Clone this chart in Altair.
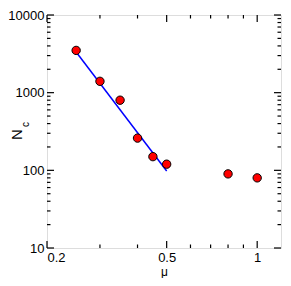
import altair as alt
import pandas as pd

# data
mu = [0.25, 0.30, 0.35, 0.40, 0.45, 0.50, 0.80, 1.00]
nc = [3500, 1400, 800, 260, 150, 120, 90, 80]
fit_mu = [0.25, 0.50]
fit_nc = [3340, 98]
x_major = [0.2, 0.5, 1.0]
x_minor = [0.3, 0.4, 0.6, 0.7, 0.8, 0.9]
y_major = [10, 100, 1000, 10000]
y_minor = [k * d for d in [10, 100, 1000] for k in range(2, 10)]

PAD = {"left": 39, "right": 2, "top": 7, "bottom": 30}
W = 275 - PAD["left"] - PAD["right"]
H = 270 - PAD["top"] - PAD["bottom"]
FONT = "Liberation Sans"
MAJ, MIN = 7, 3.5

xs = alt.Scale(type="log", domain=[0.2, 1.2], nice=False)
ys = alt.Scale(type="log", domain=[10, 10000], nice=False)

xaxis = alt.Axis(title="μ", values=x_major, format="~g", grid=False, domain=False,
                 ticks=False, tickSize=0, labelPadding=3, labelFontSize=13,
                 labelFont=FONT, titleFont=FONT, titleFontSize=12,
                 titleFontWeight="normal", titlePadding=2, labelColor="black",
                 titleColor="black")
yaxis = alt.Axis(title=None, values=y_major, format="d", grid=False, domain=False,
                 ticks=False, tickSize=0, labelPadding=3, labelFontSize=13,
                 labelFont=FONT, labelColor="black")

pts = pd.DataFrame({"mu": mu, "nc": nc})
fit = pd.DataFrame({"mu": fit_mu, "nc": fit_nc})
dxM = pd.DataFrame({"v": x_major})
dxm = pd.DataFrame({"v": x_minor})
dyM = pd.DataFrame({"v": y_major})
dym = pd.DataFrame({"v": y_minor})


def xticks(df, ln):
    b = alt.Chart(df).mark_rule(color="black", strokeWidth=1.2).encode(
        x=alt.X("v:Q", scale=xs, axis=xaxis), y=alt.value(H), y2=alt.value(H - ln))
    t = alt.Chart(df).mark_rule(color="black", strokeWidth=1.2).encode(
        x=alt.X("v:Q", scale=xs, axis=xaxis), y=alt.value(0), y2=alt.value(ln))
    return [b, t]


def yticks(df, ln):
    l = alt.Chart(df).mark_rule(color="black", strokeWidth=1.2).encode(
        y=alt.Y("v:Q", scale=ys, axis=yaxis), x=alt.value(0), x2=alt.value(ln))
    r = alt.Chart(df).mark_rule(color="black", strokeWidth=1.2).encode(
        y=alt.Y("v:Q", scale=ys, axis=yaxis), x=alt.value(W), x2=alt.value(W - ln))
    return [l, r]


line = alt.Chart(fit).mark_line(color="#0000ff", strokeWidth=1.5).encode(
    x=alt.X("mu:Q", scale=xs, axis=xaxis), y=alt.Y("nc:Q", scale=ys, axis=yaxis))

points = alt.Chart(pts).mark_circle(color="#ff0000", stroke="black", strokeWidth=1,
                                    size=70, opacity=1).encode(
    x=alt.X("mu:Q", scale=xs, axis=xaxis), y=alt.Y("nc:Q", scale=ys, axis=yaxis))

ntext = alt.Chart(pd.DataFrame({"t": ["N"]})).mark_text(
    angle=270, fontSize=15, font=FONT, baseline="alphabetic", align="center",
    color="black").encode(text="t:N", x=alt.value(-25), y=alt.value(H / 2 + 3))
ctext = alt.Chart(pd.DataFrame({"t": ["c"]})).mark_text(
    angle=270, fontSize=10, font=FONT, baseline="alphabetic", align="center",
    color="black").encode(text="t:N", x=alt.value(-18), y=alt.value(H / 2 - 7))

layers = (xticks(dxM, MAJ) + xticks(dxm, MIN) + yticks(dyM, MAJ) + yticks(dym, MIN)
          + [line, points, ntext, ctext])

chart = alt.layer(*layers).properties(
    width=W, height=H, padding=PAD, autosize=alt.AutoSizeParams(type="none")
).configure_view(stroke="black", strokeWidth=1.4).configure(font=FONT, background="white")

chart.save("out.html", embed_options={"renderer": "svg", "actions": False})
